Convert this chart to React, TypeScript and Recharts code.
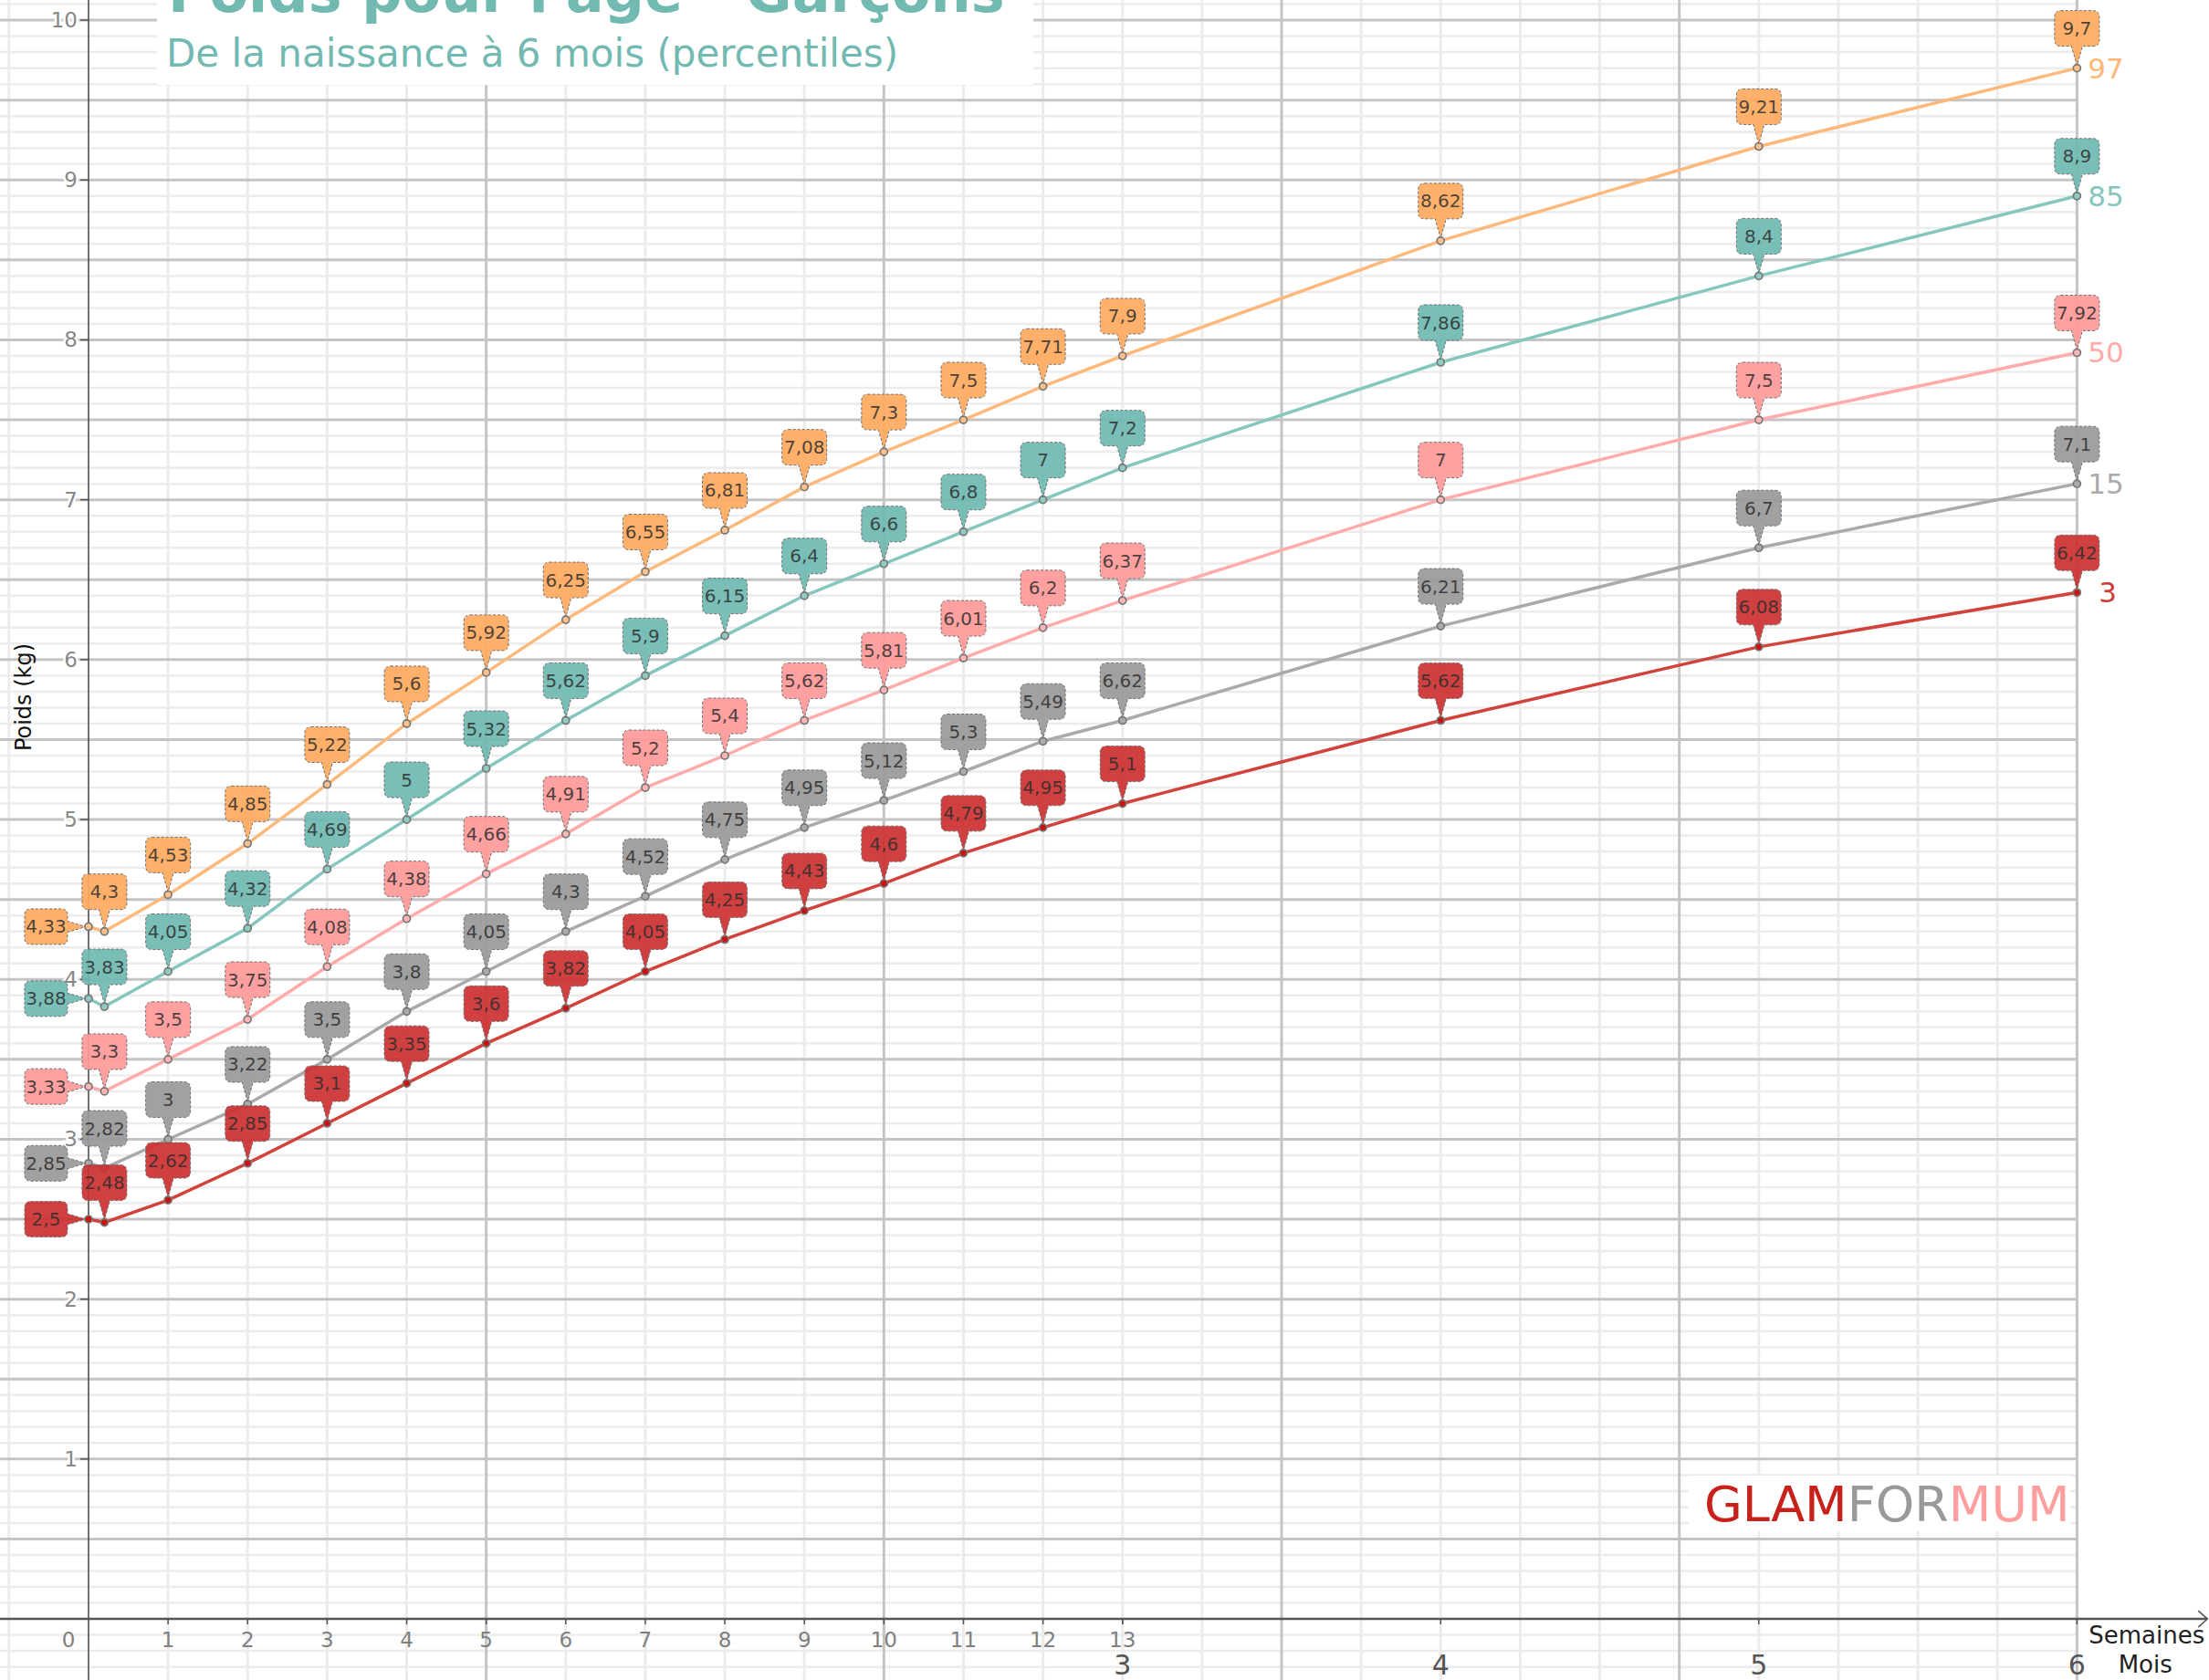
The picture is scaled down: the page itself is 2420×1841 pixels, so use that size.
import React from "react";
import {
  LabelList,
  Line,
  LineChart,
  ReferenceDot,
  ReferenceLine,
  XAxis,
  YAxis,
} from "recharts";

// age in weeks (months 4, 5, 6 sit at weeks 17, 21, 25 on this chart)
const weeks = [0, 0.2, 1, 2, 3, 4, 5, 6, 7, 8, 9, 10, 11, 12, 13, 17, 21, 25];

const p97 = [4.33, 4.3, 4.53, 4.85, 5.22, 5.6, 5.92, 6.25, 6.55, 6.81, 7.08, 7.3, 7.5, 7.71, 7.9, 8.62, 9.21, 9.7];
const p85 = [3.88, 3.83, 4.05, 4.32, 4.69, 5, 5.32, 5.62, 5.9, 6.15, 6.4, 6.6, 6.8, 7, 7.2, 7.86, 8.4, 8.9];
const p50 = [3.33, 3.3, 3.5, 3.75, 4.08, 4.38, 4.66, 4.91, 5.2, 5.4, 5.62, 5.81, 6.01, 6.2, 6.37, 7, 7.5, 7.92];
const p15 = [2.85, 2.82, 3, 3.22, 3.5, 3.8, 4.05, 4.3, 4.52, 4.75, 4.95, 5.12, 5.3, 5.49, 5.62, 6.21, 6.7, 7.1];
const p3 = [2.5, 2.48, 2.62, 2.85, 3.1, 3.35, 3.6, 3.82, 4.05, 4.25, 4.43, 4.6, 4.79, 4.95, 5.1, 5.62, 6.08, 6.42];

// the original chart prints "6,62" on the 13th week of P15
const labelOverrides: Record<string, string> = { "p15-14": "6,62" };

const weekTicks = [0, 1, 2, 3, 4, 5, 6, 7, 8, 9, 10, 11, 12, 13];
const monthLabels = ["3", "4", "5", "6"];
const monthWeeks = [13, 17, 21, 25];
const yTicks = [1, 2, 3, 4, 5, 6, 7, 8, 9, 10];

const X_MIN = -1.113;
const X_MAX = 26.66;
const X_ARROW = 26.64;
const Y_MIN = -0.382;
const Y_MAX = 10.126;
const GRID_END = 25;

const series = [
  { key: "p97", name: "97", line: "#fdb97b", box: "#ffaa5e", text: "#ffb877", dot: "#fdc08c", dx: 12 },
  { key: "p85", name: "85", line: "#85c6bf", box: "#6fb9b2", text: "#86c5be", dot: "#8fcac3", dx: 12 },
  { key: "p50", name: "50", line: "#ffabab", box: "#ff9999", text: "#ffaaaa", dot: "#ffb5b5", dx: 12 },
  { key: "p15", name: "15", line: "#aaaaaa", box: "#999999", text: "#aaaaaa", dot: "#aaaaaa", dx: 12 },
  { key: "p3", name: "3", line: "#d1423b", box: "#cc3030", text: "#d03c35", dot: "#cc1111", dx: 24 },
];

const data = weeks.map((w, i) => ({
  week: w,
  p97: p97[i],
  p85: p85[i],
  p50: p50[i],
  p15: p15[i],
  p3: p3[i],
}));

const minorY: number[] = [];
const majorY: number[] = [];
for (let i = -3; i <= 101; i++) {
  if (i === 0) continue;
  if (i % 5 === 0) majorY.push(i / 10);
  else minorY.push(i / 10);
}
const minorX: number[] = [];
const majorX: number[] = [];
for (let w = -1; w <= 25; w++) {
  if (w === 0) continue;
  if (w % 5 === 0) majorX.push(w);
  else minorX.push(w);
}

const FONT = "DejaVu Sans";

function calloutPath(x: number, y: number, left: boolean) {
  const h = 39;
  const r = 7;
  const hw = 6;
  if (left) {
    const bw = 47;
    const bx = x - 23 - bw;
    const by = y - h / 2;
    const R = bx + bw;
    const B = by + h;
    return `M${bx + r},${by} H${R - r} Q${R},${by} ${R},${by + r} V${y - hw} L${x - 3},${y} L${R},${y + hw} V${B - r} Q${R},${B} ${R - r},${B} H${bx + r} Q${bx},${B} ${bx},${B - r} V${by + r} Q${bx},${by} ${bx + r},${by} Z`;
  }
  const w = 49;
  const bx = x - w / 2;
  const by = y - 24 - h;
  const B = by + h;
  return `M${bx + r},${by} H${bx + w - r} Q${bx + w},${by} ${bx + w},${by + r} V${B - r} Q${bx + w},${B} ${bx + w - r},${B} H${x + hw} L${x},${y - 3} L${x - hw},${B} H${bx + r} Q${bx},${B} ${bx},${B - r} V${by + r} Q${bx},${by} ${bx + r},${by} Z`;
}

function Callout(props: any) {
  const { s, value, index } = props;
  const vb = props.viewBox || {};
  const x = vb.x ?? props.x;
  const y = vb.y ?? props.y;
  if (x == null || y == null || value == null) return null;
  const left = index === 0;
  const txt = labelOverrides[`${s.key}-${index}`] ?? String(value).replace(".", ",");
  const tx = left ? x - 46.5 : x;
  const ty = left ? y : y - 43.5;
  const last = index === weeks.length - 1;
  return (
    <g>
      <path
        d={calloutPath(x, y, left)}
        fill={s.box}
        fillOpacity={0.92}
        stroke="#6f6f6f"
        strokeWidth={1}
        strokeDasharray="3 2"
      />
      <text
        x={tx}
        y={ty}
        textAnchor="middle"
        dominantBaseline="central"
        fontFamily={FONT}
        fontSize={20}
        fill="#2e2e2e"
        fillOpacity={0.85}
      >
        {txt}
      </text>
      {last && (
        <text
          x={x + s.dx}
          y={y}
          dominantBaseline="central"
          fontFamily={FONT}
          fontSize={31}
          fill={s.text}
        >
          {s.name}
        </text>
      )}
    </g>
  );
}

const weekTick = (label: string, dx: number) => (p: any) => (
  <g>
    {dx === 0 && (
      <line x1={p.cx} y1={p.cy} x2={p.cx} y2={p.cy + 6} stroke="#555" strokeWidth={1.5} />
    )}
    <text
      x={p.cx + dx}
      y={p.cy + 23}
      textAnchor="middle"
      dominantBaseline="central"
      fontFamily={FONT}
      fontSize={23}
      fill="#808080"
    >
      {label}
    </text>
  </g>
);

const monthTick = (label: string) => (p: any) => (
  <g>
    <line x1={p.cx} y1={p.cy} x2={p.cx} y2={p.cy + 6} stroke="#555" strokeWidth={1.5} />
    <text
      x={p.cx}
      y={p.cy + 50}
      textAnchor="middle"
      dominantBaseline="central"
      fontFamily={FONT}
      fontSize={30}
      fill="#555"
    >
      {label}
    </text>
  </g>
);

const yTick = (label: string) => (p: any) => (
  <g>
    <line x1={p.cx - 9} y1={p.cy} x2={p.cx} y2={p.cy} stroke="#555" strokeWidth={1.5} />
    <text
      x={p.cx - 12}
      y={p.cy}
      textAnchor="end"
      dominantBaseline="central"
      fontFamily={FONT}
      fontSize={23}
      fill="#888"
      stroke="#fff"
      strokeWidth={5}
      paintOrder="stroke"
    >
      {label}
    </text>
  </g>
);

const axisEnd = (p: any) => (
  <g>
    <polyline
      points={`${p.cx - 10},${p.cy - 9} ${p.cx},${p.cy} ${p.cx - 10},${p.cy + 9}`}
      fill="none"
      stroke="#555"
      strokeWidth={1.5}
    />
    <text x={p.cx - 3} y={p.cy + 18} textAnchor="end" dominantBaseline="central" fontFamily={FONT} fontSize={26} fill="#222">
      Semaines
    </text>
    <text x={p.cx - 68} y={p.cy + 50} textAnchor="middle" dominantBaseline="central" fontFamily={FONT} fontSize={26} fill="#222">
      Mois
    </text>
  </g>
);

export default function App() {
  return (
    <div style={{ position: "absolute", left: 0, top: 0, width: 2420, height: 1841, background: "#fff" }}>
      <LineChart width={2420} height={1841} data={data} margin={{ top: 0, right: 0, bottom: 0, left: 0 }}>
        <XAxis dataKey="week" type="number" domain={[X_MIN, X_MAX]} allowDataOverflow hide />
        <YAxis type="number" domain={[Y_MIN, Y_MAX]} allowDataOverflow hide />

        {minorY.map((v) => (
          <ReferenceLine
            key={`hy${v}`}
            segment={[{ x: X_MIN, y: v }, { x: GRID_END, y: v }]}
            stroke="#ececec"
            strokeWidth={2.5}
          />
        ))}
        {minorX.map((v) => (
          <ReferenceLine key={`vx${v}`} x={v} stroke="#ececec" strokeWidth={3} />
        ))}
        {majorY.map((v) => (
          <ReferenceLine
            key={`HY${v}`}
            segment={[{ x: X_MIN, y: v }, { x: GRID_END, y: v }]}
            stroke="#c4c4c4"
            strokeWidth={3}
          />
        ))}
        {majorX.map((v) => (
          <ReferenceLine key={`VX${v}`} x={v} stroke="#c4c4c4" strokeWidth={3} />
        ))}

        <ReferenceLine x={0} stroke="#444" strokeWidth={1.5} />
        <ReferenceLine segment={[{ x: X_MIN, y: 0 }, { x: X_ARROW, y: 0 }]} stroke="#555" strokeWidth={2.5} />

        {series.map((s) => (
          <Line
            key={s.key}
            dataKey={s.key}
            type="linear"
            stroke={s.line}
            strokeWidth={3.5}
            dot={{ r: 4, stroke: "#777", strokeWidth: 1.7, fill: s.dot }}
            activeDot={false}
            isAnimationActive={false}
          >
            <LabelList dataKey={s.key} content={(props: any) => <Callout {...props} s={s} />} />
          </Line>
        ))}

        {weekTicks.map((w) => (
          <ReferenceDot key={`wt${w}`} x={w} y={0} r={0} shape={weekTick(String(w), w === 0 ? -22 : 0)} />
        ))}
        {monthWeeks.map((w, i) => (
          <ReferenceDot key={`mt${w}`} x={w} y={0} r={0} shape={monthTick(monthLabels[i])} />
        ))}
        {yTicks.map((v) => (
          <ReferenceDot key={`yt${v}`} x={0} y={v} r={0} shape={yTick(String(v))} />
        ))}
        <ReferenceDot x={X_ARROW} y={0} r={0} shape={axisEnd} />
      </LineChart>

      <svg
        width={2420}
        height={1841}
        style={{ position: "absolute", left: 0, top: 0, pointerEvents: "none" }}
      >
        <rect x={172} y={0} width={960} height={93} fill="#fff" />
        <text x={184} y={13} fontFamily={FONT} fontWeight="bold" fontSize={62} fill="#72b9b1">
          Poids pour l'âge - Garçons
        </text>
        <text x={182} y={73} fontFamily={FONT} fontSize={42} fill="#72b9b1">
          De la naissance à 6 mois (percentiles)
        </text>
        <text
          x={26}
          y={764}
          transform="rotate(-90 26 764)"
          textAnchor="middle"
          dominantBaseline="central"
          fontFamily={FONT}
          fontSize={24}
          fill="#111"
        >
          Poids (kg)
        </text>
        <rect x={1850} y={1617} width={418} height={61} fill="#fff" />
        <text x={1867} y={1667} fontFamily={FONT} fontSize={54}>
          <tspan fill="#c8201a">GLAM</tspan>
          <tspan fill="#999999">FOR</tspan>
          <tspan fill="#ff9e9e">MUM</tspan>
        </text>
      </svg>
    </div>
  );
}
